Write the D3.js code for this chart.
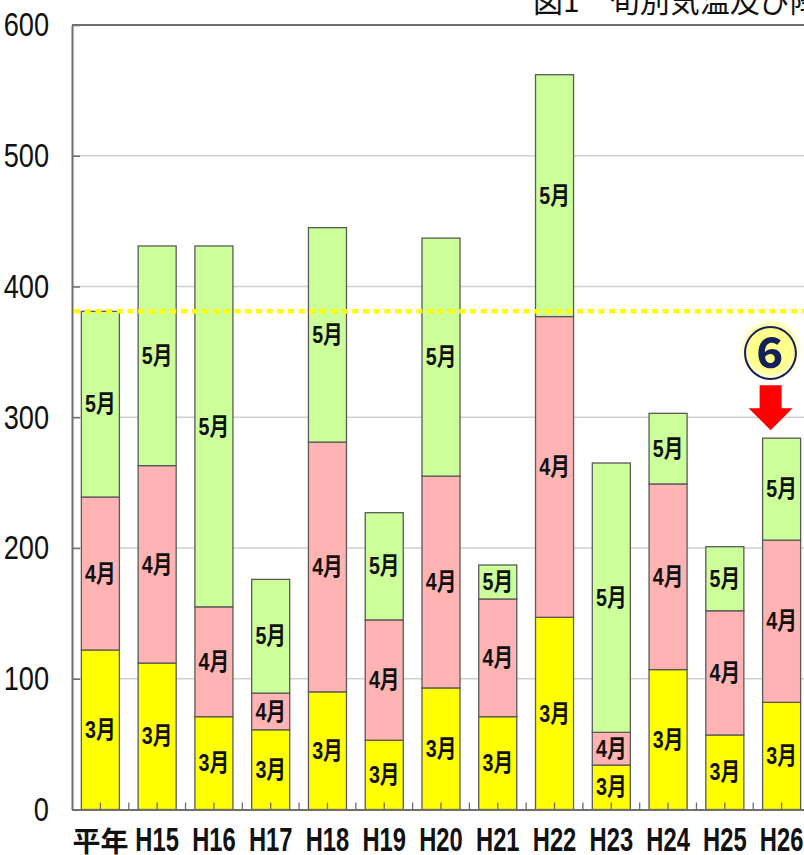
<!DOCTYPE html>
<html>
<head>
<meta charset="utf-8">
<script src="https://cdn.jsdelivr.net/npm/d3@7"></script>
<style>
  html, body { margin: 0; padding: 0; background: #fff; overflow: hidden; }
  svg { display: block; }
</style>
</head>
<body>
<svg id="chart" width="804" height="855"></svg>
<script>
// Cumulative values per period, stacked March → April → May
const categories = ["平年", "H15", "H16", "H17", "H18", "H19", "H20", "H21", "H22", "H23", "H24", "H25", "H26"];
const march = [122, 112, 71, 61, 90, 53, 93, 71, 147, 34, 107, 57, 82];
const april = [117, 151, 84, 28, 191, 92, 162, 90, 230, 25, 142, 95, 124];
const may   = [142, 168, 276, 87, 164, 82, 182, 26, 185, 206, 54, 49, 78];

const monthKeys = ["3月", "4月", "5月"];
const monthColors = ["#FFFF00", "#FFB3B3", "#CCFF99"];
const yTicks = [0, 100, 200, 300, 400, 500, 600];

const titleText = "図1　旬別気温及び降水量";
const markerLabel = "⑥";
const markerCategory = "H26";
const normalCategory = "平年";

const W = 804, H = 855;
const plotLeft = 72, plotTop = 25, plotBottom = 809.5;
const narrowFont = "'Liberation Sans', Arial, 'Noto Sans CJK JP', sans-serif";

const svg = d3.select("#chart");

const rows = categories.map((c, i) => ({
  category: c,
  "3月": march[i],
  "4月": april[i],
  "5月": may[i]
}));

const x = d3.scaleBand()
  .domain(categories)
  .range([plotLeft, 810])
  .paddingInner(0.33)
  .paddingOuter(0.165);

const y = d3.scaleLinear().domain([0, 600]).range([plotBottom, plotTop]);

const color = d3.scaleOrdinal().domain(monthKeys).range(monthColors);

const stacked = d3.stack().keys(monthKeys)(rows);

// Title (runs off the top/right edge)
svg.append("text")
  .attr("x", 533)
  .attr("y", 12)
  .attr("font-family", "'Noto Sans CJK JP', sans-serif")
  .attr("font-size", 30)
  .attr("fill", "#111")
  .text(titleText);

// Horizontal gridlines
svg.append("g")
  .selectAll("line")
  .data(yTicks.filter(v => v > 0 && v < 600))
  .join("line")
  .attr("x1", plotLeft).attr("x2", W)
  .attr("y1", d => y(d)).attr("y2", d => y(d))
  .attr("stroke", "#cfcfcf")
  .attr("stroke-width", 1.5);

// Plot frame top
svg.append("line")
  .attr("x1", plotLeft).attr("x2", W)
  .attr("y1", y(600)).attr("y2", y(600))
  .attr("stroke", "#6f6f6f")
  .attr("stroke-width", 2);

// Stacked bars
const layers = svg.append("g")
  .selectAll("g")
  .data(stacked)
  .join("g")
  .attr("fill", d => color(d.key));

layers.selectAll("rect")
  .data(d => d)
  .join("rect")
  .attr("x", d => x(d.data.category))
  .attr("width", x.bandwidth())
  .attr("y", d => y(d[1]))
  .attr("height", d => y(d[0]) - y(d[1]))
  .attr("stroke", "#5a5a5a")
  .attr("stroke-width", 1.3);

// Month labels inside each segment (horizontally condensed)
const labelScale = 0.82;
const labelGroup = svg.append("g")
  .attr("font-family", narrowFont)
  .attr("font-weight", "bold")
  .attr("font-size", 24)
  .attr("fill", "#111")
  .attr("text-anchor", "middle");

stacked.forEach(layer => {
  labelGroup.selectAll(null)
    .data(layer)
    .join("text")
    .attr("transform", `scale(${labelScale},1)`)
    .attr("x", d => (x(d.data.category) + x.bandwidth() / 2) / labelScale)
    .attr("y", d => (y(d[0]) + y(d[1])) / 2)
    .attr("dominant-baseline", "central")
    .text(layer.key);
});

// Reference line at the normal-year total
const normalIdx = categories.indexOf(normalCategory);
const normalTotal = march[normalIdx] + april[normalIdx] + may[normalIdx];
svg.append("line")
  .attr("x1", plotLeft + 2).attr("x2", W)
  .attr("y1", y(normalTotal)).attr("y2", y(normalTotal))
  .attr("stroke", "#FFFF00")
  .attr("stroke-width", 4.5)
  .attr("stroke-dasharray", "6,4.7");

// Left axis: ticks pointing inward, condensed labels on the left
const yScaleX = 0.8;
const yAxis = svg.append("g")
  .attr("transform", `translate(${plotLeft},0)`)
  .call(d3.axisLeft(y).tickValues(yTicks).tickSizeInner(-8).tickSizeOuter(0).tickPadding(23));
yAxis.select(".domain").attr("stroke", "#6f6f6f").attr("stroke-width", 2);
yAxis.selectAll(".tick line").attr("stroke", "#6f6f6f").attr("stroke-width", 1.5);
yAxis.selectAll(".tick text")
  .attr("font-family", narrowFont)
  .attr("font-size", 34)
  .attr("fill", "#111")
  .attr("transform", `scale(${yScaleX},1)`)
  .attr("x", -23 / yScaleX);

// Bottom axis: upward ticks at bar centres and between bars
const xAxis = svg.append("g")
  .attr("transform", `translate(0,${plotBottom})`)
  .call(d3.axisBottom(x).tickSizeInner(-7).tickSizeOuter(0).tickPadding(20));
xAxis.select(".domain").attr("stroke", "#6f6f6f").attr("stroke-width", 2);
xAxis.selectAll(".tick line").attr("stroke", "#6f6f6f").attr("stroke-width", 1.3);
xAxis.selectAll(".tick text")
  .attr("font-family", narrowFont)
  .attr("font-weight", "bold")
  .attr("fill", "#111")
  .attr("font-size", d => d === normalCategory ? 28 : 33)
  .attr("transform", d => d === normalCategory ? null : "scale(0.72,1)")
  .attr("y", d => d === normalCategory ? 21 : 18.5)
  .attr("dy", d => d === normalCategory ? "0.78em" : "0.71em");

svg.append("g")
  .selectAll("line")
  .data(categories)
  .join("line")
  .attr("x1", d => x(d) + x.bandwidth() / 2 + x.step() / 2)
  .attr("x2", d => x(d) + x.bandwidth() / 2 + x.step() / 2)
  .attr("y1", plotBottom).attr("y2", plotBottom - 7)
  .attr("stroke", "#6f6f6f")
  .attr("stroke-width", 1.3);

// Marker: arrow and circled number above the selected bar
const mIdx = categories.indexOf(markerCategory);
const mTotal = march[mIdx] + april[mIdx] + may[mIdx];
const mx = x(markerCategory) + x.bandwidth() / 2 - 11;
const tipY = y(mTotal) - 8;

svg.append("path")
  .attr("d", `M${mx},${tipY} L${mx - 22},${tipY - 22} L${mx - 11},${tipY - 22} L${mx - 11},${tipY - 45} L${mx + 11},${tipY - 45} L${mx + 11},${tipY - 22} L${mx + 22},${tipY - 22} Z`)
  .attr("fill", "#FF0000");

const defs = svg.append("defs");
defs.append("filter")
  .attr("id", "glow")
  .attr("x", "-50%").attr("y", "-50%").attr("width", "200%").attr("height", "200%")
  .append("feGaussianBlur")
  .attr("stdDeviation", 3);

const cy = tipY - 81;
svg.append("circle")
  .attr("cx", mx).attr("cy", cy)
  .attr("r", 27)
  .attr("fill", "#FFFF66")
  .attr("opacity", 0.75)
  .attr("filter", "url(#glow)");

svg.append("text")
  .attr("x", mx).attr("y", cy)
  .attr("text-anchor", "middle")
  .attr("dominant-baseline", "central")
  .attr("font-family", "'Noto Sans CJK JP', sans-serif")
  .attr("font-weight", "bold")
  .attr("font-size", 56)
  .attr("fill", "#15205a")
  .text(markerLabel);
</script>
</body>
</html>
